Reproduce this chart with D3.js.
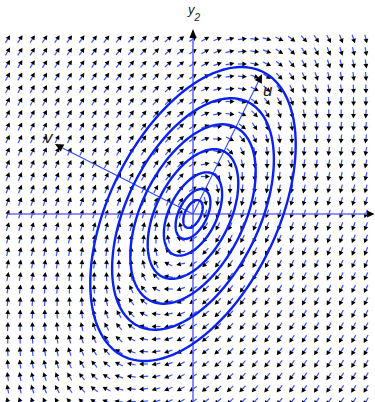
<!DOCTYPE html>
<html><head><meta charset="utf-8">
<script src="https://cdn.jsdelivr.net/npm/d3@7"></script>
<style>html,body{margin:0;padding:0;background:#fff;overflow:hidden}svg{display:block}</style>
</head><body>
<svg id="chart" width="375" height="402"></svg>
<script>
// ---- data ----
const gridX = [-3.0,-2.8,-2.6,-2.4,-2.2,-2.0,-1.8,-1.6,-1.4,-1.2,-1.0,-0.8,-0.6,-0.4,-0.2,0,0.2,0.4,0.6,0.8,1.0,1.2,1.4,1.6,1.8,2.0,2.2,2.4,2.6,2.8];
const gridY = [-3.0,-2.8,-2.6,-2.4,-2.2,-2.0,-1.8,-1.6,-1.4,-1.2,-1.0,-0.8,-0.6,-0.4,-0.2,0,0.2,0.4,0.6,0.8,1.0,1.2,1.4,1.6,1.8,2.0,2.2,2.4,2.6,2.8];
const systemMatrix = [[-1, 1.5], [-3, 1]];          // y' = A y
const orbitSemiMajor = [0.24, 0.43, 0.72, 1.12, 1.55, 2.0, 2.54];
const orbitAxisRatio = [0.535];                      // minor / major
const uDirection = [1, 2];
const vDirection = [-2, 1];
const eigenAxisLength = [2.5];
const xAxisExtent = [-3.0, 2.94];
const yAxisExtent = [-3.0, 2.96];
const axisLabels = ["y", "2", "u", "v"];

// ---- scales ----
const W = 375, H = 402;
const x = d3.scaleLinear().domain([-3, 3]).range([7.75, 378.25]);
const y = d3.scaleLinear().domain([-3, 3]).range([401.5, 26.5]);
const svg = d3.select("#chart");

const shaftColor = "#3a55ff", headColor = "#000", orbitColor = "#0a22ee", axisColor = "#6b6bff";

// ---- vector field ----
const L = 9, headLen = 4.5, headHalf = 2.4;
const field = [];
gridY.forEach(gy => gridX.forEach(gx => {
  const dx = systemMatrix[0][0]*gx + systemMatrix[0][1]*gy;
  const dy = systemMatrix[1][0]*gx + systemMatrix[1][1]*gy;
  const sx = x(gx + dx) - x(gx), sy = y(gy + dy) - y(gy);
  const n = Math.hypot(sx, sy);
  if (n === 0) return;
  field.push({cx: x(gx), cy: y(gy), ux: sx/n, uy: sy/n});
}));
const gField = svg.append("g");
gField.selectAll("line.shaft").data(field).join("line")
  .attr("x1", d => d.cx - d.ux*L/2).attr("y1", d => d.cy - d.uy*L/2)
  .attr("x2", d => d.cx + d.ux*(L/2 - headLen + 0.5)).attr("y2", d => d.cy + d.uy*(L/2 - headLen + 0.5))
  .attr("stroke", shaftColor).attr("stroke-width", 1.2);
gField.selectAll("path.head").data(field).join("path")
  .attr("d", d => {
    const tx = d.cx + d.ux*L/2, ty = d.cy + d.uy*L/2;
    const bx = tx - d.ux*headLen, by = ty - d.uy*headLen;
    return `M${tx},${ty}L${bx - d.uy*headHalf},${by + d.ux*headHalf}L${bx + d.uy*headHalf},${by - d.ux*headHalf}Z`;
  }).attr("fill", headColor);

// ---- helper arrowhead ----
function arrowHead(g, x1, y1, x2, y2, len, half) {
  const n = Math.hypot(x2 - x1, y2 - y1), ux = (x2 - x1)/n, uy = (y2 - y1)/n;
  const bx = x2 - ux*len, by = y2 - uy*len;
  g.append("path").attr("d", `M${x2},${y2}L${bx - uy*half},${by + ux*half}L${bx + uy*half},${by - ux*half}Z`).attr("fill", "#000");
  return [bx, by];
}

// ---- coordinate axes ----
const gAxes = svg.append("g");
{
  const [bx] = arrowHead(gAxes, x(xAxisExtent[0]), y(0), x(xAxisExtent[1]), y(0), 7.5, 3.6);
  gAxes.append("line").attr("x1", x(xAxisExtent[0])).attr("y1", y(0)).attr("x2", bx).attr("y2", y(0))
    .attr("stroke", axisColor).attr("stroke-width", 1.6);
  const [, by] = arrowHead(gAxes, x(0), y(yAxisExtent[0]), x(0), y(yAxisExtent[1]), 9, 3.6);
  gAxes.append("line").attr("x1", x(0)).attr("y1", y(yAxisExtent[0])).attr("x2", x(0)).attr("y2", by)
    .attr("stroke", axisColor).attr("stroke-width", 1.6);
}
// eigen axes u, v
[uDirection, vDirection].forEach(dir => {
  const n = Math.hypot(dir[0], dir[1]);
  const ex = dir[0]/n*eigenAxisLength[0], ey = dir[1]/n*eigenAxisLength[0];
  const [bx, by] = arrowHead(gAxes, x(0), y(0), x(ex), y(ey), 8.5, 4);
  gAxes.append("line").attr("x1", x(0)).attr("y1", y(0)).attr("x2", bx).attr("y2", by)
    .attr("stroke", "#3346ff").attr("stroke-width", 1.1);
});

// ---- orbits ----
const un = Math.hypot(...uDirection), vn = Math.hypot(...vDirection);
const uh = [uDirection[0]/un, uDirection[1]/un], vh = [vDirection[0]/vn, vDirection[1]/vn];
const ts = d3.range(0, 2*Math.PI, Math.PI/90);
const line = d3.line().x(d => x(d[0])).y(d => y(d[1])).curve(d3.curveLinearClosed);
svg.append("g").selectAll("path").data(orbitSemiMajor).join("path")
  .attr("d", a => line(ts.map(t => {
    const p = a*Math.cos(t), q = a*orbitAxisRatio[0]*Math.sin(t);
    return [p*uh[0] + q*vh[0], p*uh[1] + q*vh[1]];
  })))
  .attr("fill", "none").attr("stroke", orbitColor).attr("stroke-width", 2.4);

// ---- labels ----
const lab = svg.append("g").attr("font-family", "'Liberation Sans', Arial, sans-serif").attr("font-style", "italic").attr("fill", "#222");
const yl = lab.append("text").attr("x", 188).attr("y", 14).attr("font-size", 13);
yl.append("tspan").text(axisLabels[0]);
yl.append("tspan").attr("dy", 7).attr("font-size", 10).text(axisLabels[1]);
lab.append("text").attr("x", 263).attr("y", 96).attr("font-size", 17).text(axisLabels[2]);
lab.append("text").attr("x", 44).attr("y", 143).attr("font-size", 17).text(axisLabels[3]);
</script>
</body></html>
